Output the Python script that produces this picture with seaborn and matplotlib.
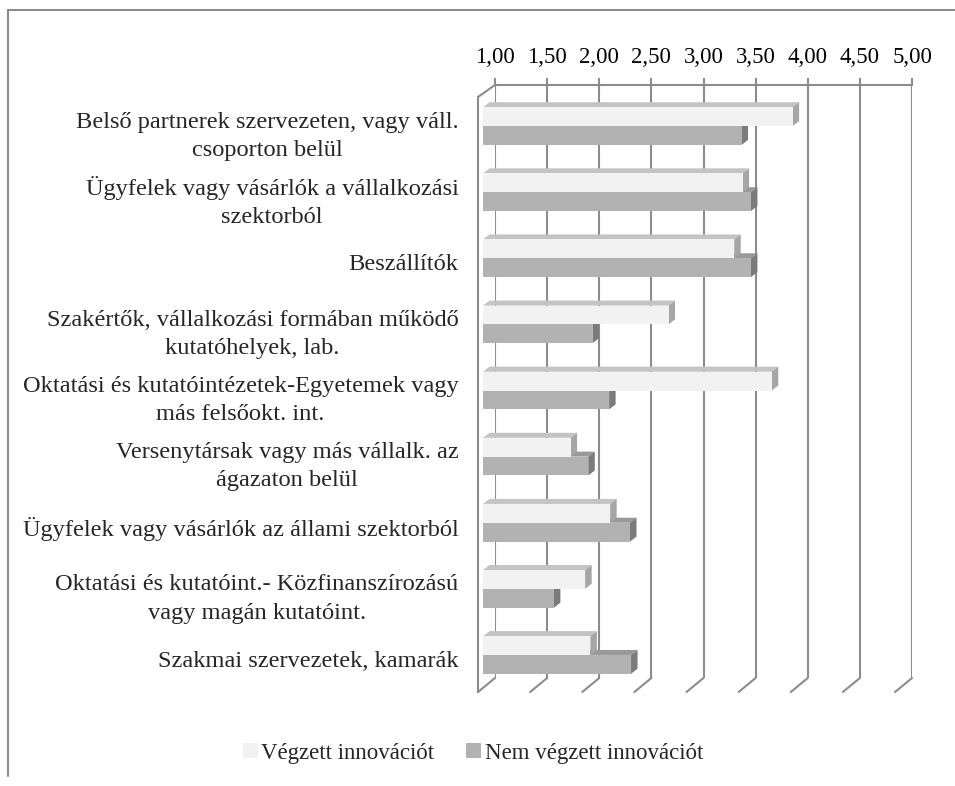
import numpy as np
import pandas as pd
import matplotlib.pyplot as plt
import seaborn as sns
from matplotlib.lines import Line2D
from matplotlib.patches import Polygon
from matplotlib.transforms import IdentityTransform

sns.set_theme(style="white")
plt.rcParams["font.family"] = ["Liberation Serif", "DejaVu Serif"]

CATEGORIES = [
    "Belső partnerek szervezeten, vagy váll.\ncsoporton belül",
    "Ügyfelek vagy vásárlók a vállalkozási\nszektorból",
    "Beszállítók",
    "Szakértők, vállalkozási formában működő\nkutatóhelyek, lab.",
    "Oktatási és kutatóintézetek-Egyetemek vagy\nmás felsőokt. int.",
    "Versenytársak vagy más vállalk. az\nágazaton belül",
    "Ügyfelek vagy vásárlók az állami szektorból",
    "Oktatási és kutatóint.- Közfinanszírozású\nvagy magán kutatóint.",
    "Szakmai szervezetek, kamarák",
]
SERIES = ["Végzett innovációt", "Nem végzett innovációt"]
INNOV = [3.97, 3.49, 3.41, 2.78, 3.77, 1.84, 2.22, 1.98, 2.03]
NO_INNOV = [3.48, 3.57, 3.57, 2.05, 2.21, 2.01, 2.41, 1.68, 2.42]
TICKS = [1.0, 1.5, 2.0, 2.5, 3.0, 3.5, 4.0, 4.5, 5.0]
TICK_LABELS = ["1,00", "1,50", "2,00", "2,50", "3,00", "3,50", "4,00", "4,50", "5,00"]

df = pd.DataFrame({
    "cat": CATEGORIES * 2,
    "series": [SERIES[0]] * len(CATEGORIES) + [SERIES[1]] * len(CATEGORIES),
    "value": INNOV + NO_INNOV,
})

W, H = 955, 786
GRID = "#8c8c8c"
FRONT = {SERIES[0]: "#f2f2f2", SERIES[1]: "#b2b2b2"}
TOP = {SERIES[0]: "#c4c4c4", SERIES[1]: "#999999"}
SIDE = {SERIES[0]: "#a6a6a6", SERIES[1]: "#7b7b7b"}
SCALE = 104.25          # px per unit on the value axis
DX, DY = 6.5, 5         # bar depth in px

fig = plt.figure(figsize=(W / 100, H / 100), dpi=100)


def px_axes(l, t, r, b, z):
    ax = fig.add_axes([l / W, 1 - b / H, (r - l) / W, (b - t) / H], zorder=z)
    ax.patch.set_visible(False)
    return ax


# ---- back wall: gridlines + value ticks on top ----
ax_back = px_axes(495, 85, 495 + 4 * SCALE, 678, 0)
ax_back.set_xlim(1, 5)
ax_back.set_ylim(0, 1)
ax_back.set_xticks(TICKS)
ax_back.set_xticklabels(TICK_LABELS, fontsize=16.5)
ax_back.set_yticks([])
ax_back.xaxis.tick_top()
ax_back.tick_params(axis="x", length=5, width=1.5, pad=7, colors="black")
ax_back.tick_params(axis="x", color=GRID)
for v in TICKS:
    ax_back.axvline(v, color=GRID, lw=1.5)
for s in ["left", "right", "bottom"]:
    ax_back.spines[s].set_visible(False)
ax_back.spines["top"].set_color(GRID)
ax_back.spines["top"].set_linewidth(1.5)

# ---- front plane: category axis ----
ax_front = px_axes(478, 97, 478 + 4 * SCALE, 692, 0.5)
ax_front.set_xlim(1, 5)
ax_front.set_ylim(len(CATEGORIES), 0)
ax_front.set_xticks([])
ax_front.set_yticks(np.arange(len(CATEGORIES)) + 0.5)
ax_front.set_yticklabels(CATEGORIES, fontsize=17.6, ha="right",
                         multialignment="center", linespacing=1.45)
ax_front.set_yticks(np.arange(len(CATEGORIES) + 1), minor=True)
ax_front.tick_params(axis="y", which="major", length=0, pad=14)
ax_front.tick_params(axis="y", which="minor", length=4, width=1.5, color=GRID)
for s in ["top", "right", "bottom"]:
    ax_front.spines[s].set_visible(False)
ax_front.spines["left"].set_color(GRID)
ax_front.spines["left"].set_linewidth(1.5)

# ---- bars ----
ax_bar = px_axes(483, 93, 483 + 4 * SCALE, 688, 3)
sns.barplot(data=df, y="cat", x="value", hue="series", orient="h",
            palette=FRONT, width=0.57, saturation=1, linewidth=0, ax=ax_bar)
ax_bar.set_xlim(1, 5)
ax_bar.set_ylim(len(CATEGORIES) - 0.5, -0.5)
ax_bar.set_axis_off()
sns.move_legend(ax_bar, "center", bbox_to_anchor=(473 / W, 1 - 753 / H),
                bbox_transform=fig.transFigure, ncol=2, frameon=False, title=None,
                fontsize=16.5, handlelength=0.65, handleheight=0.65,
                handletextpad=0.15, columnspacing=1.4)

# 3D faces of each bar (top + right side), dark series first
for container, name in reversed(list(zip(ax_bar.containers, SERIES))):
    for p in container:
        x0 = max(p.get_x(), 1)
        x1 = p.get_x() + p.get_width()
        (a, b), (c, d) = ax_bar.transData.transform([(x0, p.get_y()),
                                                     (x1, p.get_y() + p.get_height())])
        left, right = min(a, c), max(a, c)
        top, bot = max(b, d), min(b, d)
        fig.add_artist(Polygon([(left, top), (right, top), (right + DX, top + DY),
                                (left + DX, top + DY)], closed=True, lw=0,
                               facecolor=TOP[name], transform=IdentityTransform(), zorder=1.5))
        fig.add_artist(Polygon([(right, bot), (right, top), (right + DX, top + DY),
                                (right + DX, bot + DY)], closed=True, lw=0,
                               facecolor=SIDE[name], transform=IdentityTransform(), zorder=1.5))

# ---- floor / corner diagonals and outer frame ----
def line(xs, ys):
    fig.add_artist(Line2D(xs, [H - y for y in ys], color=GRID, lw=1.5,
                          transform=IdentityTransform(), zorder=1))


for v in TICKS:
    xb = ax_back.transData.transform((v, 0))[0]
    xf = ax_front.transData.transform((v, 0))[0]
    line([xb, xf], [678, 692])
line([495, 478], [85, 97])
line([8, 8], [10, 776])
line([8, W], [10, 10])

fig.savefig("out.png", dpi=100)
